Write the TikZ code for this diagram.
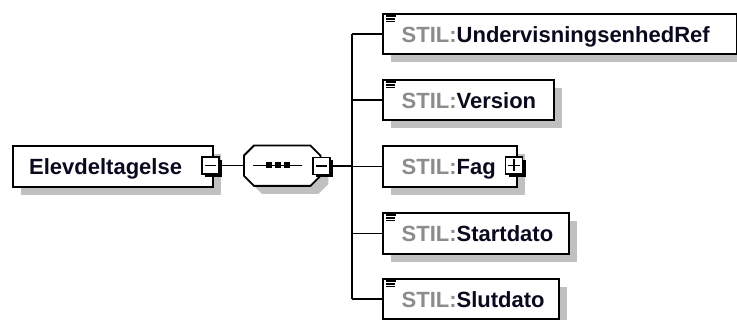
\documentclass[tikz,border=0pt]{standalone}
\usepackage{fontspec}
\setmainfont{Liberation Sans}
\usetikzlibrary{shadows,calc}
\definecolor{stilgray}{HTML}{8C8C8C}
\definecolor{txtcol}{HTML}{0A0A1E}
\definecolor{shadowgray}{HTML}{C0C0C0}
\begin{document}
\begin{tikzpicture}[x=1pt,y=-1pt,
  ebox/.style={draw=black, line width=2pt, fill=white, inner sep=0pt,
    minimum height=41pt, anchor=north west,
    general shadow={fill=shadowgray, shadow xshift=8pt, shadow yshift=-8pt}},
  lbl/.style={font=\fontsize{22}{26}\selectfont\bfseries, text=txtcol, inner sep=0pt, anchor=base west},
  pmbox/.style={draw=black, line width=1.6pt, fill=white, minimum size=17pt, inner sep=0pt,
    general shadow={fill=black, shadow xshift=3pt, shadow yshift=-3pt}},
  conn/.style={draw=black, line width=1.8pt},
  sign/.style={draw=black, line width=1.6pt},
  icon/.style={draw=black, line width=1.4pt},
]
\useasboundingbox (0,0) rectangle (737,320);
\newcommand{\stil}{\textcolor{stilgray}{STIL:}}
\newcommand{\docicon}[1]{%
  \draw[icon] ($(#1.north west)+(4,3.2)$) -- ++(10,0);
  \draw[icon] ($(#1.north west)+(4,6)$) -- ++(8.5,0);
  \draw[icon] ($(#1.north west)+(4,8.8)$) -- ++(8.5,0);}

% spine coordinate
\coordinate (sp) at (352,0);

% main element
\node[ebox, minimum width=200pt] (main) at (12,145) {};
\node[lbl] (mainlbl) at ($(main.west)+(17,8)$) {Elevdeltagelse};
\node[pmbox] (mainm) at (210.5,165.5) {};
\draw[sign] ($(mainm.center)+(-5.5,0)$) -- ($(mainm.center)+(5.5,0)$);

% sequence compositor
\node[minimum width=76pt, minimum height=40pt, inner sep=0pt, anchor=north west] (seq) at (244,145.5) {};
\draw[conn, fill=white, general shadow={fill=shadowgray, shadow xshift=8pt, shadow yshift=-8pt}]
  ($(seq.north west)+(10,0)$) -- ($(seq.north east)+(-10,0)$) -- ($(seq.north east)+(0,10)$)
  -- ($(seq.south east)+(0,-10)$) -- ($(seq.south east)+(-10,0)$) -- ($(seq.south west)+(10,0)$)
  -- ($(seq.south west)+(0,-10)$) -- ($(seq.north west)+(0,10)$) -- cycle;
\coordinate (g) at (277.5,165.5);
\draw[line width=1.6pt] ($(g)+(-24.5,0)$) -- ($(g)+(24.5,0)$);
\foreach \dx in {-9,0,9}{\fill[black] ($(g)+(\dx,0)+(-3,-3)$) rectangle ++(6,6);}
\node[pmbox] (seqm) at (321.5,166) {};
\draw[sign] ($(seqm.center)+(-5.5,0)$) -- ($(seqm.center)+(5.5,0)$);

% connectors main -> seq
\draw[conn] (mainm.east) ++(1.5,0) -- (seq.west |- mainm.east);
\draw[conn] (seqm.east) ++(1.5,0) -- (sp |- seqm.east);

% children
\node[ebox, minimum width=354pt, minimum height=40pt] (c1) at (382,13) {};
\node[ebox, minimum width=171pt, minimum height=40pt] (c2) at (382,79) {};
\node[ebox, minimum width=134pt] (c3) at (382,145) {};
\node[ebox, minimum width=186pt] (c4) at (382,212) {};
\node[ebox, minimum width=176pt, minimum height=40pt] (c5) at (382,278) {};

\node[lbl] (l1) at ($(c1.west)+(19.5,8.5)$) {\stil UndervisningsenhedRef};
\node[lbl] (l2) at ($(c2.west)+(19.5,8.5)$) {\stil Version};
\node[lbl] (l3) at ($(c3.west)+(19.5,8.5)$) {\stil Fag};
\node[lbl] (l4) at ($(c4.west)+(19.5,8.5)$) {\stil Startdato};
\node[lbl] (l5) at ($(c5.west)+(19.5,8.5)$) {\stil Slutdato};

\docicon{c1}
\docicon{c2}
\docicon{c4}
\docicon{c5}

\node[pmbox] (fagp) at (514,165.5) {};
\draw[sign] ($(fagp.center)+(-6,0)$) -- ($(fagp.center)+(6,0)$);
\draw[sign] ($(fagp.center)+(0,-6)$) -- ($(fagp.center)+(0,6)$);

% spine and branches
\draw[conn] (sp |- c1.west) -- (sp |- c5.west);
\foreach \c in {c1,c2,c3,c4,c5}{\draw[conn] (sp |- \c.west) -- (\c.west);}
\end{tikzpicture}
\end{document}
